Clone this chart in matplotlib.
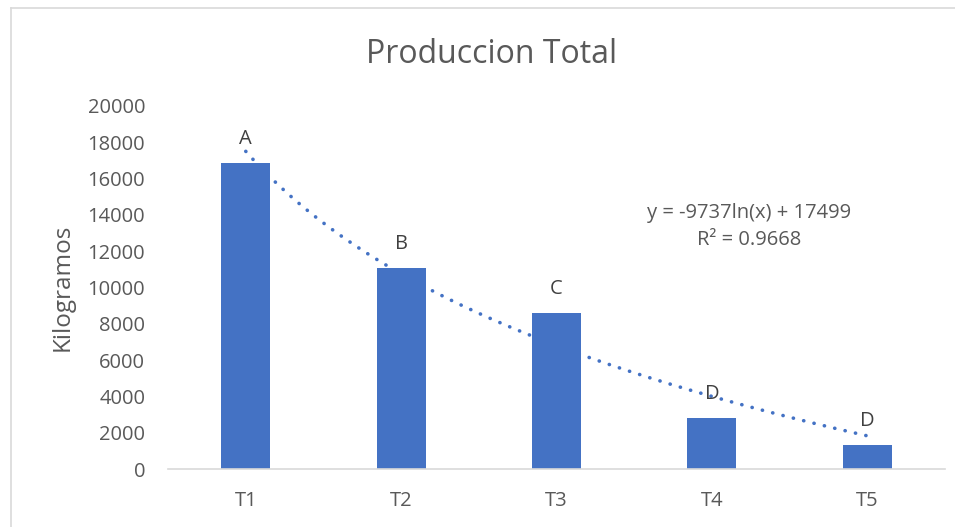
import numpy as np
import matplotlib.pyplot as plt
from matplotlib.lines import Line2D

plt.rcParams['font.family'] = ['Open Sans', 'DejaVu Sans']

# Data
tratamientos = ["T1", "T2", "T3", "T4", "T5"]
kilogramos = [16850, 11100, 8600, 2800, 1330]
letras = ["A", "B", "C", "D", "D"]
# Logarithmic trend: y = a*ln(x) + b
trend_a = -9737
trend_b = 17499
trend_r2 = 0.9668
y_ticks = [0, 2000, 4000, 6000, 8000, 10000, 12000, 14000, 16000, 18000, 20000]

text_gray = "#595959"
bar_blue = "#4472C4"

fig = plt.figure(figsize=(9.55, 5.27), dpi=100)
ax = fig.add_axes([0.176, 0.110, 0.8135, 0.689])

x = np.arange(1, len(tratamientos) + 1)
ax.bar(x, kilogramos, width=0.316, color=bar_blue, zorder=2)

# Trend line across the categories
xt = np.linspace(1, len(tratamientos), 200)
yt = trend_a * np.log(xt) + trend_b
ax.plot(xt, yt, color=bar_blue, linewidth=2.6,
        linestyle=(0, (0.05, 2.9)), dash_capstyle='round',
        solid_capstyle='round', zorder=3)

# Group letters above bars
for xi, v, l in zip(x, kilogramos, letras):
    ax.annotate(l, (xi, v), xytext=(0, 10), textcoords='offset points',
                ha='center', va='bottom', fontsize=14.5, color="#404040")

ax.text(4.24, 13350, f"y = {trend_a}ln(x) + {trend_b}\nR² = {trend_r2}",
        ha='center', va='center', fontsize=14.5, color=text_gray,
        linespacing=1.45)

ax.set_xlim(0.5, len(tratamientos) + 0.5)
ax.set_ylim(0, 20000)
ax.set_xticks(x)
ax.set_xticklabels(tratamientos)
ax.set_yticks(y_ticks)
ax.set_yticklabels([str(t) for t in y_ticks])
ax.tick_params(axis='both', length=0, labelsize=14.5, colors=text_gray)
ax.tick_params(axis='x', pad=16)
ax.tick_params(axis='y', pad=16.5)

for s in ['top', 'right', 'left']:
    ax.spines[s].set_visible(False)
ax.spines['bottom'].set_color("#d9d9d9")
ax.spines['bottom'].set_linewidth(1.2)

ax.set_ylabel("Kilogramos", fontsize=17.5, color=text_gray, labelpad=9)
fig.text(0.515, 0.897, "Produccion Total", ha='center', va='center',
         fontsize=23, color=text_gray)

# Chart frame (top and left edges)
fig.add_artist(Line2D([11/955, 1.0], [1 - 8/527, 1 - 8/527],
                      transform=fig.transFigure, color="#d9d9d9", linewidth=1.2))
fig.add_artist(Line2D([11/955, 11/955], [0, 1 - 8/527],
                      transform=fig.transFigure, color="#d9d9d9", linewidth=1.2))

fig.savefig("out.png", dpi=100, facecolor="white")
